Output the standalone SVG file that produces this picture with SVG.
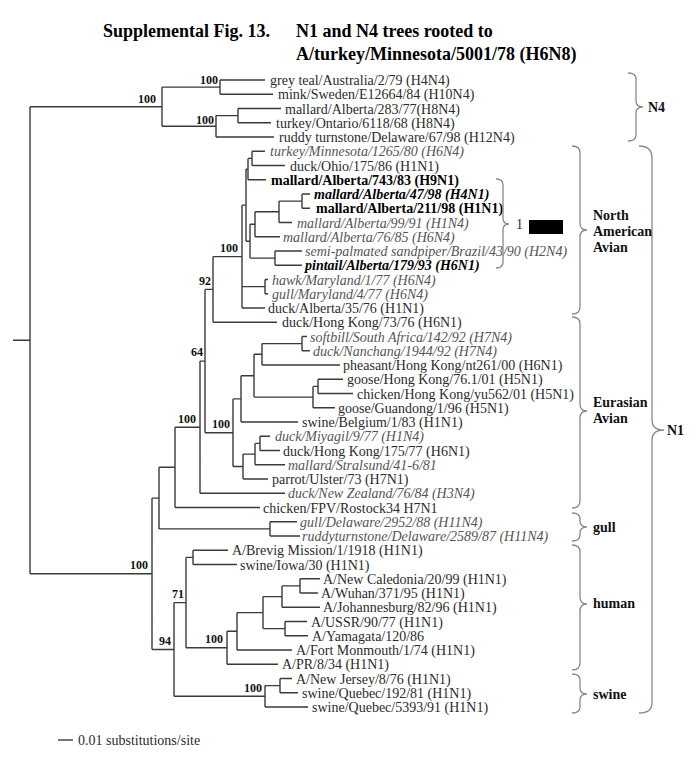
<svg xmlns="http://www.w3.org/2000/svg" width="700" height="760" viewBox="0 0 700 760">
<style>
text{font-family:"Liberation Serif","Times New Roman",serif}
.lf{font-size:14px;fill:#2b2b2b}
.it{font-style:italic;fill:#555}
.b{font-weight:bold;fill:#000}
.sup{font-size:12px;font-weight:bold;fill:#111;text-anchor:end}
.ttl{font-size:18px;font-weight:bold;fill:#000}
.grp{font-size:14px;font-weight:bold;fill:#111}
.tree{fill:none;stroke:#3a3a3a;stroke-width:1.4}
.brace{fill:none;stroke:#888;stroke-width:1.3}
</style>
<rect width="700" height="760" fill="#fff"/>
<g id="title">
<text class="ttl" x="103" y="37">Supplemental  Fig. 13.</text>
<text class="ttl" x="296" y="37">N1 and N4 trees rooted to</text>
<text class="ttl" x="296" y="60">A/turkey/Minnesota/5001/78 (H6N8)</text>
</g>
<g id="connectors" class="tree">
<path d="M13 340.3H30 M30 106.7V573.8 M30 106.7H162 M30 573.8H152"/>
<path d="M220 80V94.25 M220 80H265 M220 94.25H273 M238 108.5V122.75 M238 108.5H281 M238 122.75H271 M216 115.6V137 M216 115.6H238 M216 137H274 M162 87.1V126.3 M162 87.1H220 M162 126.3H216"/>
<path d="M252 151.25V165.5 M252 151.25H265 M252 165.5H285 M248 158.4V179.75 M248 158.4H252 M248 179.75H266 M302 194V208.25 M302 194H310 M302 208.25H310 M279 201.1V222.5 M279 201.1H302 M279 222.5H292 M255 211.8V236.75 M255 211.8H279 M255 236.75H280 M275 251V265.25 M275 251H302 M275 265.25H302 M250 224.3V258.1 M250 224.3H255 M250 258.1H275 M246 169.1V241.2 M246 169.1H248 M246 241.2H250 M265 279.5V293.75 M265 279.5H268 M265 293.75H268 M242 205.1V308 M242 205.1H246 M242 286.6H265 M242 308H265 M213 256.6V322.25 M213 256.6H242 M213 322.25H277"/>
<path d="M302 336.5V350.75 M302 336.5H307 M302 350.75H310 M262 343.6V365 M262 343.6H302 M262 365H340 M318 379.25V393.5 M318 379.25H343 M318 393.5H353 M313 386.4V407.75 M313 386.4H318 M313 407.75H335 M254 354.3V397.1 M254 354.3H262 M254 397.1H313 M241 375.7V422 M241 375.7H254 M241 422H298 M260 436.25V450.5 M260 436.25H270 M260 450.5H280 M255 443.4V464.75 M255 443.4H260 M255 464.75H285 M243 454.1V479 M243 454.1H255 M243 479H268 M233 398.9V466.5 M233 398.9H241 M233 466.5H243 M205 289.4V432.7 M205 289.4H213 M205 432.7H233 M200 361.1V493.25 M200 361.1H205 M200 493.25H285 M175 427.2V507.5 M175 427.2H200 M175 507.5H260 M270 521.75V536 M270 521.75H297 M270 536H300 M159 467.3V528.9 M159 467.3H175 M159 528.9H270"/>
<path d="M193 550.25V564.5 M193 550.25H228 M193 564.5H237 M300 578.75V593 M300 578.75H320 M300 593H318 M282 585.9V607.25 M282 585.9H300 M282 607.25H320 M285 621.5V635.75 M285 621.5H307 M285 635.75H308 M263 596.6V628.6 M263 596.6H282 M263 628.6H285 M237 612.6V650 M237 612.6H263 M237 650H292 M227 631.3V664.25 M227 631.3H237 M227 664.25H278 M186 557.4V647.8 M186 557.4H193 M186 647.8H227 M280 678.5V692.75 M280 678.5H292 M280 692.75H298 M265 685.6V707 M265 685.6H280 M265 707H308 M174 602.6V696.3 M174 602.6H186 M174 696.3H265 M152 498.1V649.5 M152 498.1H159 M152 649.5H174"/>
</g>
<g id="support">
<text class="sup" x="156" y="103">100</text>
<text class="sup" x="218" y="84">100</text>
<text class="sup" x="214" y="124">100</text>
<text class="sup" x="238" y="252">100</text>
<text class="sup" x="211" y="285">92</text>
<text class="sup" x="203" y="356">64</text>
<text class="sup" x="230" y="428">100</text>
<text class="sup" x="196" y="423">100</text>
<text class="sup" x="148" y="569">100</text>
<text class="sup" x="184" y="598">71</text>
<text class="sup" x="171" y="645">94</text>
<text class="sup" x="223" y="643">100</text>
<text class="sup" x="262" y="692">100</text>
</g>
<g id="leaves">
<g id="l0"><text class="lf" x="270" y="85">grey teal/Australia/2/79 (H4N4)</text></g>
<g id="l1"><text class="lf" x="278" y="99.25">mink/Sweden/E12664/84 (H10N4)</text></g>
<g id="l2"><text class="lf" x="285" y="113.5">mallard/Alberta/283/77(H8N4)</text></g>
<g id="l3"><text class="lf" x="276" y="127.75">turkey/Ontario/6118/68 (H8N4)</text></g>
<g id="l4"><text class="lf" x="279" y="142">ruddy turnstone/Delaware/67/98 (H12N4)</text></g>
<g id="l5"><text class="lf it" x="270" y="156.25">turkey/Minnesota/1265/80 (H6N4)</text></g>
<g id="l6"><text class="lf" x="290" y="170.5">duck/Ohio/175/86 (H1N1)</text></g>
<g id="l7"><text class="lf b" x="271" y="184.75">mallard/Alberta/743/83 (H9N1)</text></g>
<g id="l8"><text class="lf b it" style="fill:#000" x="314" y="199">mallard/Alberta/47/98 (H4N1)</text></g>
<g id="l9"><text class="lf b" x="316" y="213.25">mallard/Alberta/211/98 (H1N1)</text></g>
<g id="l10"><text class="lf it" x="297" y="227.5">mallard/Alberta/99/91 (H1N4)</text></g>
<g id="l11"><text class="lf it" x="283" y="241.75">mallard/Alberta/76/85 (H6N4)</text></g>
<g id="l12"><text class="lf it" x="305" y="256">semi-palmated sandpiper/Brazil/43/90 (H2N4)</text></g>
<g id="l13"><text class="lf b it" style="fill:#000" x="305" y="270.25">pintail/Alberta/179/93 (H6N1)</text></g>
<g id="l14"><text class="lf it" x="272" y="284.5">hawk/Maryland/1/77 (H6N4)</text></g>
<g id="l15"><text class="lf it" x="272" y="298.75">gull/Maryland/4/77 (H6N4)</text></g>
<g id="l16"><text class="lf" x="268" y="313">duck/Alberta/35/76 (H1N1)</text></g>
<g id="l17"><text class="lf" x="282" y="327.25">duck/Hong Kong/73/76 (H6N1)</text></g>
<g id="l18"><text class="lf it" x="310" y="341.5">softbill/South Africa/142/92 (H7N4)</text></g>
<g id="l19"><text class="lf it" x="313" y="355.75">duck/Nanchang/1944/92 (H7N4)</text></g>
<g id="l20"><text class="lf" x="343" y="370">pheasant/Hong Kong/nt261/00 (H6N1)</text></g>
<g id="l21"><text class="lf" x="347" y="384.25">goose/Hong Kong/76.1/01 (H5N1)</text></g>
<g id="l22"><text class="lf" x="357" y="398.5">chicken/Hong Kong/yu562/01 (H5N1)</text></g>
<g id="l23"><text class="lf" x="338" y="412.75">goose/Guandong/1/96 (H5N1)</text></g>
<g id="l24"><text class="lf" x="302" y="427">swine/Belgium/1/83 (H1N1)</text></g>
<g id="l25"><text class="lf it" x="275" y="441.25">duck/Miyagil/9/77 (H1N4)</text></g>
<g id="l26"><text class="lf" x="283" y="455.5">duck/Hong Kong/175/77 (H6N1)</text></g>
<g id="l27"><text class="lf it" x="288" y="469.75">mallard/Stralsund/41-6/81</text></g>
<g id="l28"><text class="lf" x="272" y="484">parrot/Ulster/73 (H7N1)</text></g>
<g id="l29"><text class="lf it" x="288" y="498.25">duck/New Zealand/76/84 (H3N4)</text></g>
<g id="l30"><text class="lf" x="263" y="512.5">chicken/FPV/Rostock34 H7N1</text></g>
<g id="l31"><text class="lf it" x="300" y="526.75">gull/Delaware/2952/88 (H11N4)</text></g>
<g id="l32"><text class="lf it" x="302" y="541">ruddyturnstone/Delaware/2589/87 (H11N4)</text></g>
<g id="l33"><text class="lf" x="232" y="555.25">A/Brevig Mission/1/1918 (H1N1)</text></g>
<g id="l34"><text class="lf" x="240" y="569.5">swine/Iowa/30 (H1N1)</text></g>
<g id="l35"><text class="lf" x="323" y="583.75">A/New Caledonia/20/99 (H1N1)</text></g>
<g id="l36"><text class="lf" x="321" y="598">A/Wuhan/371/95 (H1N1)</text></g>
<g id="l37"><text class="lf" x="323" y="612.25">A/Johannesburg/82/96 (H1N1)</text></g>
<g id="l38"><text class="lf" x="311" y="626.5">A/USSR/90/77 (H1N1)</text></g>
<g id="l39"><text class="lf" x="312" y="640.75">A/Yamagata/120/86</text></g>
<g id="l40"><text class="lf" x="296" y="655">A/Fort Monmouth/1/74 (H1N1)</text></g>
<g id="l41"><text class="lf" x="282" y="669.25">A/PR/8/34 (H1N1)</text></g>
<g id="l42"><text class="lf" x="296" y="683.5">A/New Jersey/8/76 (H1N1)</text></g>
<g id="l43"><text class="lf" x="302" y="697.75">swine/Quebec/192/81 (H1N1)</text></g>
<g id="l44"><text class="lf" x="312" y="712">swine/Quebec/5393/91 (H1N1)</text></g>
</g>
<g id="clades">
<path class="brace" d="M628 73 Q636 73 636 79 V101 Q636 107 643 107 Q636 107 636 113 V135 Q636 141 628 141"/>
<path class="brace" d="M496 179 Q503 179 503 185 V218 Q503 224 509 224 Q503 224 503 230 V262 Q503 268 496 268"/>
<path class="brace" d="M572 146 Q580 146 580 153 V223 Q580 230 587 230 Q580 230 580 237 V307 Q580 314 572 314"/>
<path class="brace" d="M572 317 Q580 317 580 324 V404 Q580 411 587 411 Q580 411 580 418 V501 Q580 508 572 508"/>
<path class="brace" d="M572 513 Q580 513 580 519 V521 Q580 527 587 527 Q580 527 580 533 V535 Q580 541 572 541"/>
<path class="brace" d="M572 545 Q580 545 580 552 V597 Q580 604 587 604 Q580 604 580 611 V663 Q580 670 572 670"/>
<path class="brace" d="M572 674 Q580 674 580 680 V688 Q580 694 587 694 Q580 694 580 700 V707 Q580 713 572 713"/>
<path class="brace" d="M639 146 Q652 146 652 158 V420 Q652 430 664 430 Q652 430 652 440 V703 Q652 713 639 713"/>
<text class="grp" x="648" y="112">N4</text>
<text class="grp" x="667" y="435">N1</text>
<text class="grp" x="593" y="220">North</text>
<text class="grp" x="593" y="236">American</text>
<text class="grp" x="593" y="252">Avian</text>
<text class="grp" x="593" y="407">Eurasian</text>
<text class="grp" x="593" y="423">Avian</text>
<text class="grp" x="593" y="532">gull</text>
<text class="grp" x="593" y="608">human</text>
<text class="grp" x="593" y="699">swine</text>
<text class="lf" x="516" y="229">1</text>
<rect x="529" y="220" width="34" height="14" fill="#000"/>
</g>
<g id="scale">
<path class="tree" d="M58 740H73"/>
<text class="lf" x="78" y="744.5">0.01 substitutions/site</text>
</g>
</svg>
